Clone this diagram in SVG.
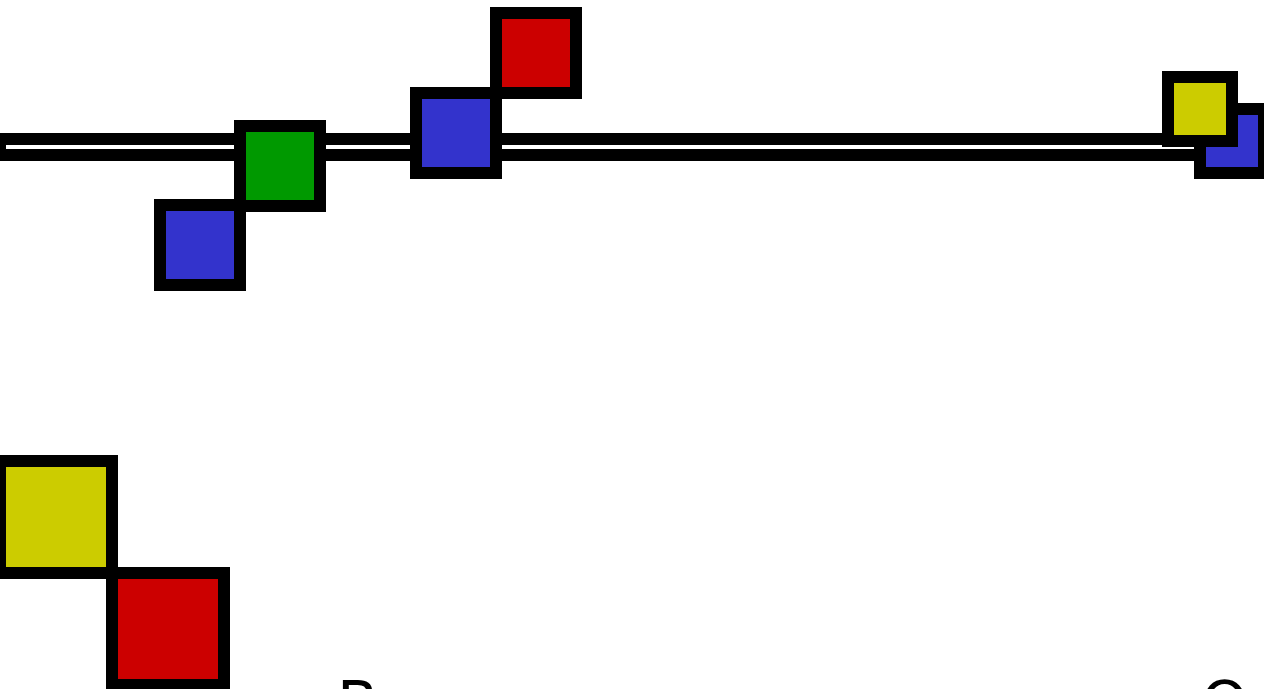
<svg xmlns="http://www.w3.org/2000/svg" width="1264" height="689" viewBox="0 0 1264 689">
<style>
.n{stroke:#000;stroke-width:12}
.b{fill:#3333cc}.g{fill:#009900}.r{fill:#cc0000}.y{fill:#cccc00}
.t{font-family:"DejaVu Sans",sans-serif;font-size:60px;fill:#000}
</style>
<g id="connectors">
<rect x="0" y="139" width="1200" height="16" fill="#fff" stroke="#000" stroke-width="12"/>
</g>
<g id="n1"><rect class="n b" x="160" y="205" width="80" height="80"/></g>
<g id="n2"><rect class="n g" x="240" y="126" width="80" height="80"/></g>
<g id="n3"><rect class="n b" x="416" y="93" width="80" height="80"/></g>
<g id="n4"><rect class="n r" x="496" y="13" width="80" height="80"/></g>
<g id="n5"><rect class="n b" x="1200" y="109" width="64" height="64"/></g>
<g id="n6"><rect class="n y" x="1168" y="77" width="64" height="64"/></g>
<g id="n7"><rect class="n y" x="0" y="461" width="112" height="112"/></g>
<g id="n8"><rect class="n r" x="112" y="573" width="112" height="112"/></g>
<g id="labels">
<text class="t" x="337" y="724">B</text>
<text class="t" x="1201" y="724">O</text>
</g>
</svg>
